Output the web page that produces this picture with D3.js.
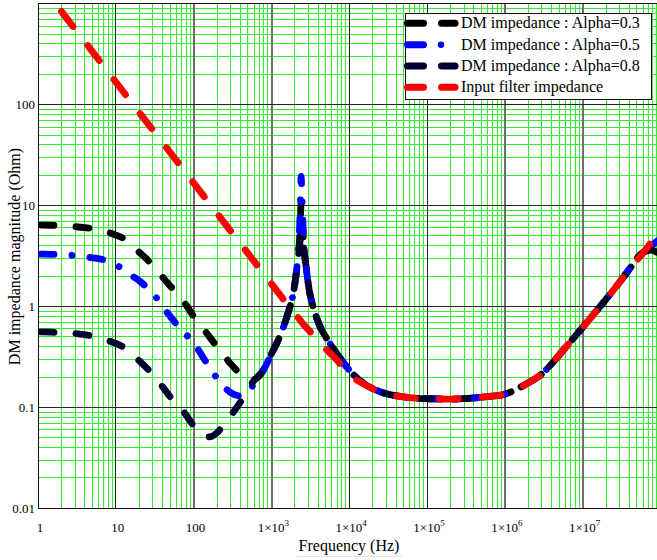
<!DOCTYPE html>
<html><head><meta charset="utf-8">
<script src="https://cdn.jsdelivr.net/npm/d3@7"></script>
<style>
html,body{margin:0;padding:0;background:#fff;}
svg{display:block;}
svg text{font-family:"Liberation Serif","Times New Roman",serif;}
</style></head><body>
<svg id="chart" width="657" height="560"></svg>
<script>
// ---------------- data ----------------
const freq = [1, 1.5, 2, 3, 4, 5, 7, 10, 13, 16,
  20, 25, 30, 40, 50, 70, 100, 130, 160, 200,
  250, 300, 400, 500, 600, 700, 850, 1000, 1200, 1400,
  1650, 1900, 2100, 2250, 2350, 2410, 2480, 2600, 2800, 3100,
  3500, 4200, 5000, 6800, 1e4, 1.5e4, 2.5e4, 5e4, 1e5, 2e5,
  3e5, 6e5, 1e6, 1.5e6, 2e6, 3e6, 4e6, 6e6, 1e7, 1.5e7,
  2e7, 3e7, 4e7, 6e7, 7.5e7, 9e7];

const dmAlpha03 = [6.4, 6.38, 6.3, 6.18, 6.05, 5.92, 5.62, 5.1, 4.65, 4.08,
  3.45, 2.95, 2.52, 1.95, 1.6, 1.2, 0.8, 0.62, 0.5, 0.4,
  0.32, 0.27, 0.215, 0.19, 0.19, 0.205, 0.26, 0.34, 0.45, 0.6,
  0.88, 1.32, 2.2, 3.6, 6.5, 11, 7.5, 4.2, 2.45, 1.38,
  0.95, 0.64, 0.5, 0.35, 0.235, 0.175, 0.143, 0.127, 0.122, 0.121,
  0.122, 0.128, 0.135, 0.155, 0.175, 0.215, 0.27, 0.39, 0.62, 0.9,
  1.18, 1.75, 2.35, 3.45, 3.65, 3.45];

const dmAlpha05 = [3.3, 3.29, 3.26, 3.2, 3.12, 3.04, 2.9, 2.6, 2.27, 2.02,
  1.8, 1.55, 1.36, 0.99, 0.8, 0.58, 0.44, 0.32, 0.25, 0.195,
  0.158, 0.14, 0.13, 0.143, 0.172, 0.205, 0.26, 0.34, 0.45, 0.6,
  0.88, 1.32, 2.25, 4.0, 9.5, 19.5, 11, 4.6, 2.45, 1.38,
  0.95, 0.64, 0.5, 0.35, 0.235, 0.175, 0.143, 0.127, 0.122, 0.121,
  0.122, 0.128, 0.135, 0.155, 0.175, 0.215, 0.27, 0.39, 0.62, 0.9,
  1.18, 1.75, 2.35, 3.45, 3.9, 4.45];

const dmAlpha08 = [0.56, 0.556, 0.55, 0.54, 0.525, 0.51, 0.475, 0.43, 0.39, 0.34,
  0.29, 0.245, 0.215, 0.16, 0.127, 0.097, 0.066, 0.055, 0.051, 0.056,
  0.069, 0.083, 0.113, 0.152, 0.185, 0.21, 0.26, 0.34, 0.45, 0.6,
  0.88, 1.32, 2.2, 3.4, 4.6, 5.3, 4.9, 3.8, 2.4, 1.38,
  0.95, 0.64, 0.5, 0.35, 0.235, 0.175, 0.143, 0.127, 0.122, 0.121,
  0.122, 0.128, 0.135, 0.155, 0.175, 0.215, 0.27, 0.39, 0.62, 0.9,
  1.18, 1.75, 2.35, 3.45, 3.6, 3.45];

const inputFilter = [null, null, 840, 560, 420, 336, 240, 168, 129, 105,
  84, 67, 56, 42, 33.6, 24, 16.8, 12.9, 10.5, 8.4,
  6.7, 5.6, 4.2, 3.36, 2.8, 2.4, 1.98, 1.68, 1.4, 1.2,
  1.02, 0.89, 0.81, 0.76, 0.73, 0.71, 0.69, 0.66, 0.62, 0.57,
  0.51, 0.43, 0.38, 0.3, 0.212, 0.172, 0.143, 0.127, 0.122, 0.121,
  0.122, 0.128, 0.135, 0.155, 0.175, 0.215, 0.27, 0.39, 0.62, 0.9,
  1.18, 1.75, 2.35, 3.4, 4.3, 5.5];

const seriesLabels = ["DM impedance : Alpha=0.3", "DM impedance : Alpha=0.5",
  "DM impedance : Alpha=0.8", "Input filter impedance"];
const xTickValues = [1, 10, 100, 1e3, 1e4, 1e5, 1e6, 1e7];
const yTickValues = [0.01, 0.1, 1, 10, 100];
const xTitle = "Frequency (Hz)";
const yTitle = "DM impedance magnitude (Ohm)";

// ---------------- styles ----------------
const FONT = "'Liberation Serif', 'Times New Roman', serif";
const series = [
  {vals: dmAlpha03, color: "#000000", dash: "13 22", offset: -3},
  {vals: dmAlpha05, color: "#0000ff", dash: "13 18 0.01 18", offset: -3},
  {vals: dmAlpha08, color: "#00002e", dash: "13 22", offset: -3},
  {vals: inputFilter, color: "#ff0000", dash: "19 24", offset: 0}
];
const LW = 6.8;

const svg = d3.select("#chart");
const W = 657, H = 560;
const x = d3.scaleLog().domain([1, 1e8]).range([38, 38 + 8 * 77.8]);
const y = d3.scaleLog().domain([0.01, 1000]).range([508.3, 3.8]);
const px = v => Math.floor(x(v)) + 0.5;
const py = v => Math.floor(y(v)) + 0.5;
const x0 = px(1), yB = py(0.01), yT = py(1000);

svg.append("rect").attr("width", W).attr("height", H).attr("fill", "#fff");

// grid
const isMajor = v => Math.abs(Math.log10(v) - Math.round(Math.log10(v))) < 1e-9;
const grid = svg.append("g");
const xt = x.ticks().filter(v => x(v) <= W + 2);
const yt = y.ticks();
grid.selectAll("line.vx").data(xt.filter(v => !isMajor(v))).join("line")
  .attr("x1", px).attr("x2", px).attr("y1", yT).attr("y2", yB)
  .attr("stroke", "#2eee2e").attr("stroke-width", 1);
grid.selectAll("line.hy").data(yt.filter(v => !isMajor(v))).join("line")
  .attr("x1", x0).attr("x2", W).attr("y1", py).attr("y2", py)
  .attr("stroke", "#2eee2e").attr("stroke-width", 1);
const grayMajor = [100, 1e3, 1e6, 1e7];
grid.selectAll("line.mx").data(xt.filter(isMajor)).join("line")
  .attr("x1", d => grayMajor.includes(d) ? px(d) + 0.5 : px(d))
  .attr("x2", d => grayMajor.includes(d) ? px(d) + 0.5 : px(d))
  .attr("y1", yT).attr("y2", yB)
  .attr("stroke", d => grayMajor.includes(d) ? "#6e6e6e" : "#222")
  .attr("stroke-width", d => grayMajor.includes(d) ? 2 : 1);
grid.selectAll("line.my").data(yt.filter(isMajor)).join("line")
  .attr("x1", x0).attr("x2", W).attr("y1", py).attr("y2", py)
  .attr("stroke", "#222").attr("stroke-width", 1);
// frame
svg.append("path").attr("d", `M${W + 5},${yT}H${x0}V${yB}H${W + 5}`)
  .attr("fill", "none").attr("stroke", "#111").attr("stroke-width", 1);

// curves
svg.append("clipPath").attr("id", "clip").append("rect")
  .attr("x", x0).attr("y", yT).attr("width", W - x0).attr("height", yB - yT);
const line = d3.line().defined(d => d.v != null)
  .x(d => x(d.f)).y(d => y(d.v)).curve(d3.curveMonotoneX);
const cg = svg.append("g").attr("clip-path", "url(#clip)");
series.forEach(s => {
  const pts = freq.map((f, i) => ({f, v: s.vals[i]}));
  cg.append("path").attr("d", line(pts)).attr("fill", "none")
    .attr("stroke", s.color).attr("stroke-width", LW)
    .attr("stroke-linecap", "round").attr("stroke-linejoin", "round")
    .attr("stroke-dasharray", s.dash).attr("stroke-dashoffset", s.offset);
});

// legend
const lg = svg.append("g");
lg.append("rect").attr("x", 405.5).attr("y", 13.5).attr("width", 246).attr("height", 86)
  .attr("fill", "#fff").attr("stroke", "#111").attr("stroke-width", 1);
const rowBase = [28.3, 49.7, 71, 92.3];
seriesLabels.forEach((lab, i) => {
  const yy = rowBase[i] - 5;
  const s = series[i];
  lg.append("line").attr("x1", 407.5).attr("x2", 423.5).attr("y1", yy).attr("y2", yy)
    .attr("stroke", s.color).attr("stroke-width", 7).attr("stroke-linecap", "round");
  if (i === 1) {
    lg.append("circle").attr("cx", 441).attr("cy", yy).attr("r", 3.2).attr("fill", s.color);
  } else {
    lg.append("line").attr("x1", 441.5).attr("x2", 455).attr("y1", yy).attr("y2", yy)
      .attr("stroke", s.color).attr("stroke-width", 7).attr("stroke-linecap", "round");
  }
  lg.append("text").attr("x", 461).attr("y", rowBase[i]).attr("font-size", 16)
    .attr("font-family", FONT).attr("fill", "#000").text(lab);
});

// axes (labels only)
const supDigits = {3: "3", 4: "4", 5: "5", 6: "6", 7: "7"};
const gx = svg.append("g").attr("transform", `translate(0,${yB})`)
  .call(d3.axisBottom(x).tickValues(xTickValues).tickSize(0).tickPadding(14)
    .tickFormat(d => String(d)));
gx.select(".domain").remove();
gx.attr("font-family", FONT).attr("font-size", 13);
gx.selectAll("text").attr("font-size", 13).attr("font-family", FONT)
  .attr("fill", "#000").attr("x", 1.5)
  .each(function(d) {
    if (d >= 1000) {
      const t = d3.select(this);
      const e = Math.round(Math.log10(d));
      t.text("1×10");
      t.append("tspan").attr("font-size", 9).attr("dy", -6).text(supDigits[e]);
    }
  });

const gy = svg.append("g").attr("transform", `translate(${x0},0)`)
  .call(d3.axisLeft(y).tickValues(yTickValues).tickSize(0).tickPadding(3.5)
    .tickFormat(d => String(d)));
gy.select(".domain").remove();
gy.attr("font-family", FONT).attr("font-size", 13);
gy.selectAll("text").attr("font-size", 13).attr("font-family", FONT).attr("fill", "#000");

// titles
svg.append("text").attr("x", 349).attr("y", 550.5).attr("text-anchor", "middle")
  .attr("font-family", FONT).attr("font-size", 16).attr("fill", "#000").text(xTitle);
svg.append("line").attr("x1", 297).attr("x2", 402).attr("y1", 556.5).attr("y2", 556.5)
  .attr("stroke", "#e2e2e2").attr("stroke-width", 1);
svg.append("text").attr("transform", "translate(19.5,256.5) rotate(-90)")
  .attr("text-anchor", "middle").attr("font-family", FONT).attr("font-size", 16)
  .attr("fill", "#000").text(yTitle);
</script>
</body></html>
